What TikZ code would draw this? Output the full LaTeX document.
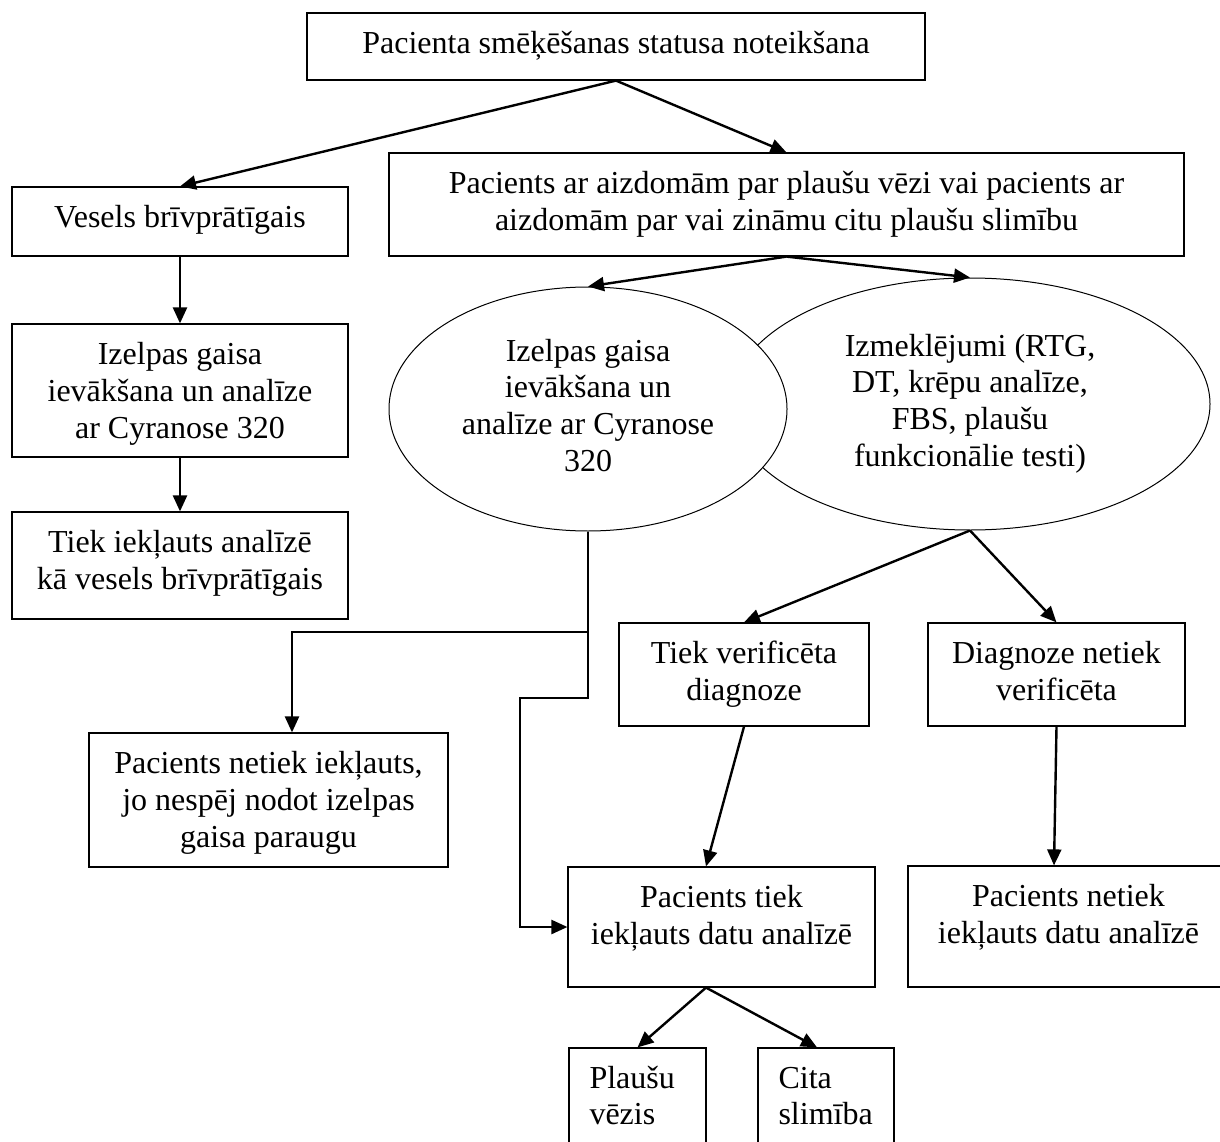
\documentclass[tikz,border=0pt]{standalone}
\usepackage{fontspec}
\setmainfont{Liberation Serif}
\usetikzlibrary{arrows.meta,shapes.geometric,calc}
\newcommand{\bxt}[3]{\parbox[c][#2][t]{#1}{\centering\rule{0pt}{40.5pt}#3}}
\newcommand{\bxl}[3]{\parbox[c][#2][t]{#1}{\raggedright\leftskip=20.5pt\rule{0pt}{40pt}#3}}
\begin{document}
\begin{tikzpicture}[x=1pt,y=-1pt,
  font=\fontsize{32}{36.8}\selectfont,
  box/.style={draw=black, line width=1.2pt, inner sep=0pt, fill=white},
  ell/.style={draw=black, ellipse, line width=1pt, inner sep=0pt, align=center},
  arr/.style={-{Triangle[length=16pt,width=14pt]}, line width=2.4pt},
  ln/.style={line width=2.4pt}]
\useasboundingbox (0,0) rectangle (1220,1142);

\node[box] (top) at (616,46.5) {\bxt{618pt}{67pt}{Pacienta smēķēšanas statusa noteikšana}};
\node[box] (pac) at (786.5,204.5) {\bxt{795pt}{103pt}{Pacients ar aizdomām par plaušu vēzi vai pacients ar\\aizdomām par vai zināmu citu plaušu slimību}};
\node[box] (ves) at (180,221.5) {\bxt{336pt}{69pt}{Vesels brīvprātīgais}};
\node[box] (izb) at (180,390.5) {\bxt{336pt}{133pt}{Izelpas gaisa\\ievākšana un analīze\\ar Cyranose 320}};
\node[box] (tkb) at (180,565.5) {\bxt{336pt}{107pt}{Tiek iekļauts analīzē\\kā vesels brīvprātīgais}};

\node[ell, minimum width=480pt, minimum height=252pt] (el2) at (970,404) {\strut Izmeklējumi (RTG,\\DT, krēpu analīze,\\FBS, plaušu\\funkcionālie testi)\strut};
\node[ell, fill=white, minimum width=398pt, minimum height=244pt] (el1) at (588,409) {\strut Izelpas gaisa\\ievākšana un\\analīze ar Cyranose\\320\strut};

\node[box] (lb) at (268.5,800) {\bxt{359pt}{134pt}{Pacients netiek iekļauts,\\jo nespēj nodot izelpas\\gaisa paraugu}};
\node[box] (tv) at (744,674.5) {\bxt{250pt}{103pt}{Tiek verificēta\\diagnoze}};
\node[box] (dn) at (1056.5,674.5) {\bxt{257pt}{103pt}{Diagnoze netiek\\verificēta}};
\node[box] (pt) at (721.5,927) {\bxt{307pt}{120pt}{Pacients tiek\\iekļauts datu analīzē}};
\node[box] (pn) at (1068.5,926.5) {\bxt{321pt}{121pt}{Pacients netiek\\iekļauts datu analīzē}};
\node[box] (pl) at (637.5,1104) {\bxl{137pt}{112pt}{Plaušu\\vēzis}};
\node[box] (ci) at (826,1104) {\bxl{136pt}{112pt}{Cita\\slimība}};

\coordinate (j1) at (588,632);
\coordinate (j2) at (292,632);
\coordinate (j3) at (588,698);
\coordinate (j4) at (520,698);

\draw[arr] (top.south) -- (ves.north);
\draw[arr] (top.south) -- (pac.north);
\draw[arr] (ves.south) -- (izb.north);
\draw[arr] (izb.south) -- (tkb.north);
\draw[arr] (pac.south) -- (el1.north);
\draw[arr] (pac.south) -- (el2.north);
\draw[ln] (el1.south) -- (j1);
\draw[arr] (j1) -- (j2) -- (j2 |- lb.north);
\draw[arr] (j1) -- (j3) -- (j4) -- (j4 |- pt.west) -- (pt.west);
\draw[arr] (el2.south) -- (tv.north);
\draw[arr] (el2.south) -- (dn.north);
\draw[arr] (tv.south) -- ($(pt.north)+(-15.5,0)$);
\draw[arr] (dn.south) -- ($(pn.north)+(-14.5,0)$);
\draw[arr] ($(pt.south)+(-15.5,0)$) -- (pl.north);
\draw[arr] ($(pt.south)+(-15.5,0)$) -- ($(ci.north)+(-9,0)$);
\end{tikzpicture}
\end{document}
